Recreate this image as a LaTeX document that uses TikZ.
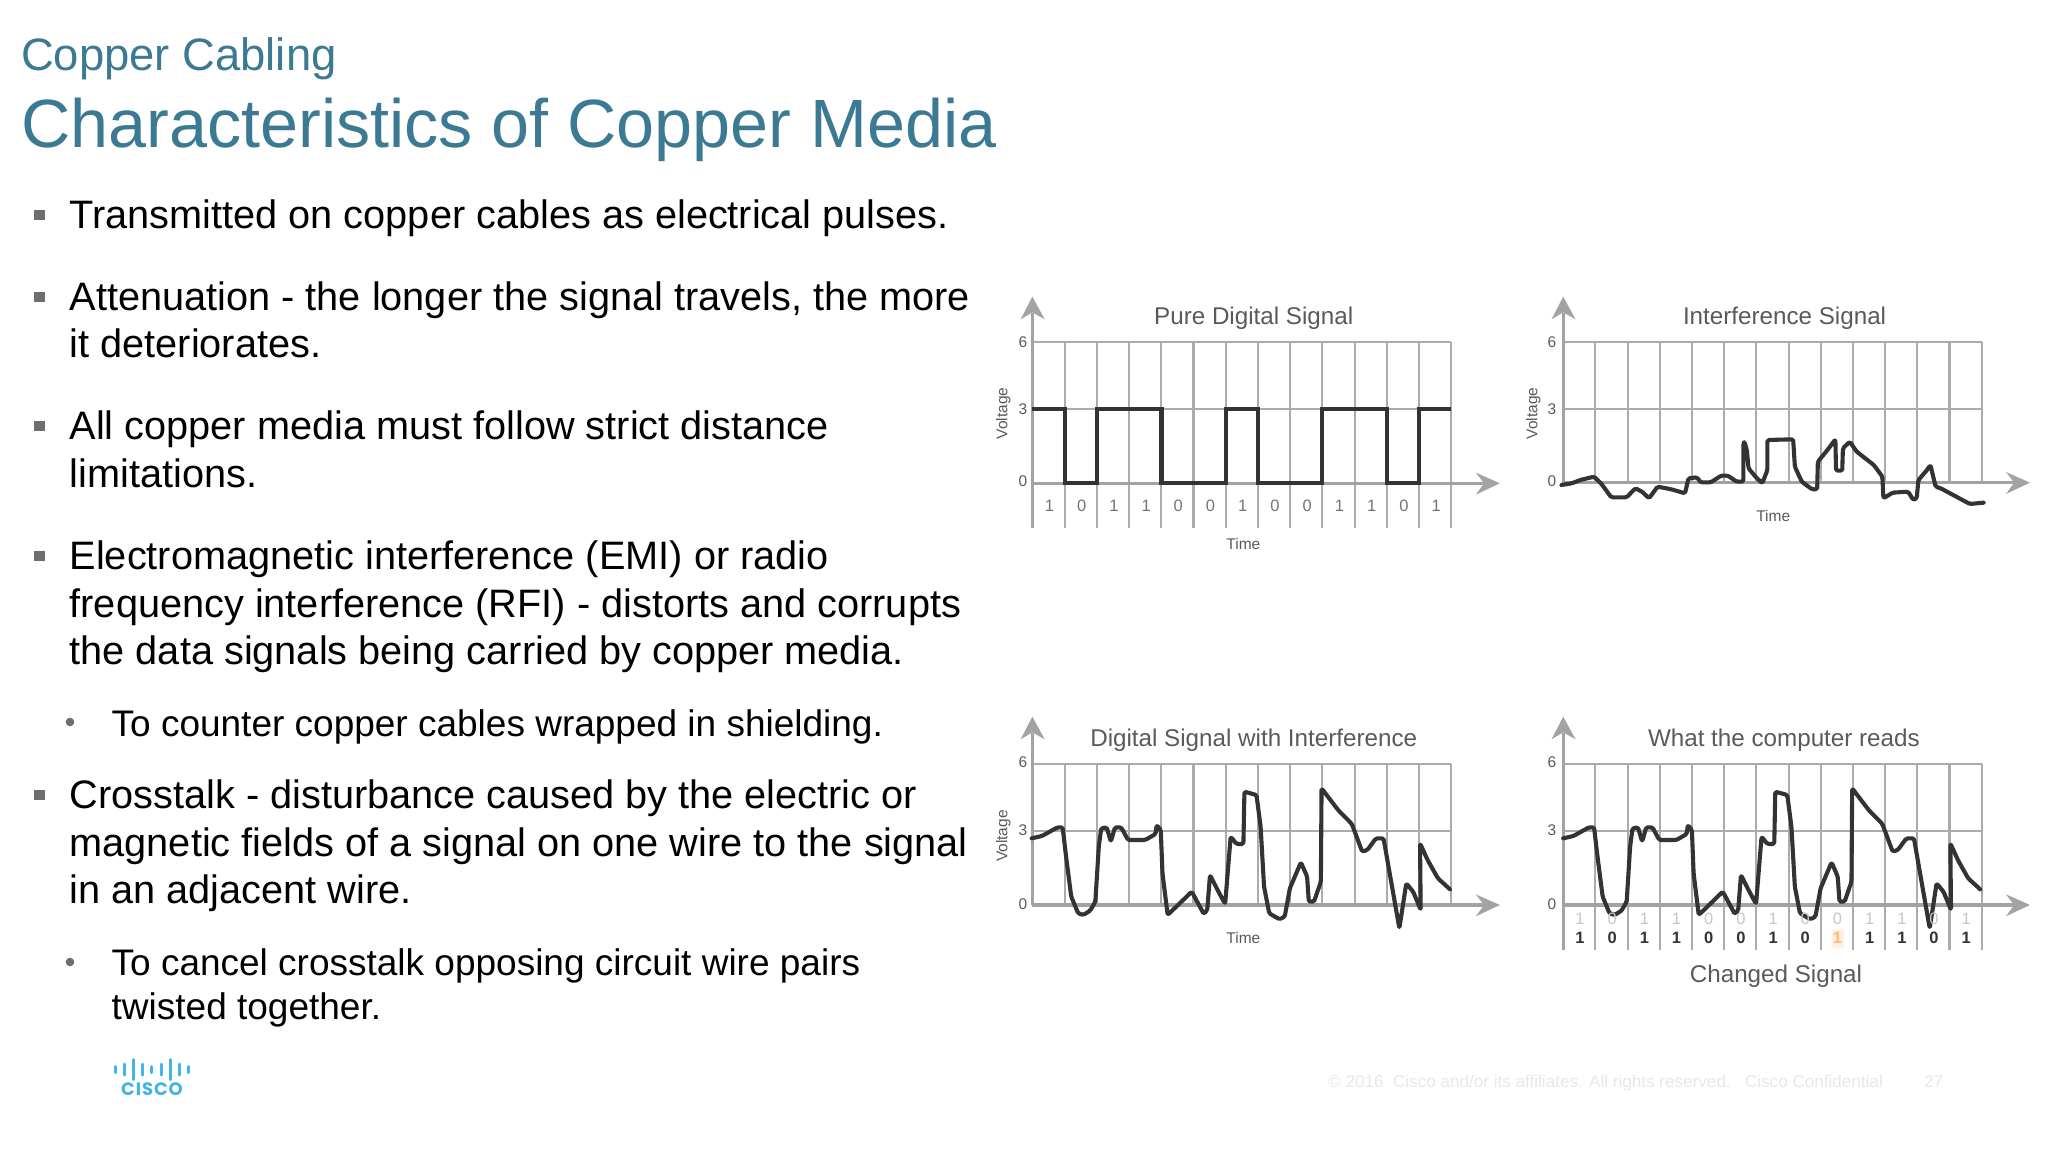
\documentclass[tikz,border=0pt]{standalone}
\usepackage{fontspec}
\setmainfont{Liberation Sans}
\newfontfamily\logofont[LetterSpace=5]{Poppins}
\definecolor{teal}{HTML}{3B7A92}
\definecolor{gridc}{HTML}{ABABAB}
\definecolor{axisc}{HTML}{A3A3A3}
\definecolor{sigc}{HTML}{333333}
\definecolor{labc}{HTML}{5A5A5A}
\definecolor{bulc}{HTML}{6E6E6E}
\definecolor{ciscoc}{HTML}{3FB6E4}
\definecolor{footc}{HTML}{E8E8E8}
\newcommand{\fs}[1]{\fontsize{#1}{#1}\selectfont}
\tikzset{
  txt/.style={inner sep=0pt,anchor=base west},
  head/.style={txt,text=teal,font=\fs{45.4}},
  maintitle/.style={txt,text=teal,font=\fs{68.3}},
  body/.style={txt,text=black,font=\fs{39.7}},
  subbody/.style={txt,text=black,font=\fs{37}},
  lab/.style={inner sep=0pt,text=labc},
  gtitle/.style={lab,font=\fs{24.2}},
  small/.style={lab,font=\fs{15.5}},
  dig/.style={inner sep=0pt,text=labc!85,font=\fs{16.5}},
  dighi/.style={inner sep=0pt,text=black!80,font=\fs{16.5}\bfseries},
  diglo/.style={inner sep=0pt,text=black!22,font=\fs{16.5}},
  gridl/.style={draw=gridc,line width=2.1pt},
  axisl/.style={draw=axisc,line width=3.2pt},
  sig/.style={draw=sigc,line width=4.1pt,line join=round,line cap=round,rounded corners=1.5pt},
  headfill/.style={fill=axisc,draw=none},
  sqb/.style={fill=bulc,draw=none},
  dotb/.style={fill=bulc,draw=none},
  logobar/.style={draw=ciscoc,line width=3pt,line cap=round},
  foot/.style={inner sep=0pt,anchor=base west,text=footc,font=\fs{17.1}},
}
% #1 x0  #2 dx  #3 top  #4 mid  #5 zero  #6 arrow end x  #7 bottom of verticals
\newcommand{\graphframe}[7]{
  \foreach \i in {1,...,13} \draw[gridl] ({#1+\i*#2},#3) -- ({#1+\i*#2},#7);
  \draw[gridl] (#1,#3) -- ({#1+13*#2},#3);
  \draw[gridl] (#1,#4) -- ({#1+13*#2},#4);
  \draw[axisl] (#1,100) -- (#1,#7);
  \draw[axisl] (#1,#5) -- (#6-40,#5);
  \fill[headfill] (#1,50) -- (#1+36,118) -- (#1,97) -- (#1-34,118) -- cycle;
  \fill[headfill] (#6,#5) -- (#6-70,#5-32) -- (#6-46,#5) -- (#6-70,#5+34) -- cycle;
}
\def\sigthree{(150,415) -- (180,408) -- (225,382) -- (240,382) -- (250,470) -- (265,590) -- (285,640) -- (300,645) -- (320,632) -- (335,605) -- (345,440) -- (352,385) -- (368,382) -- (380,425) -- (392,382) -- (410,382) -- (430,420) -- (480,420) -- (510,402) -- (513,375) -- (525,390) -- (530,520) -- (545,645) -- (615,575) -- (650,642) -- (660,630) -- (668,525) -- (690,570) -- (712,612) -- (728,410) -- (745,432) -- (765,432) -- (768,275) -- (803,285) -- (815,380) -- (825,560) -- (840,640) -- (870,658) -- (885,650) -- (900,565) -- (932,487) -- (950,530) -- (955,605) -- (970,605) -- (990,545) -- (992,265) -- (1040,330) -- (1080,372) -- (1110,455) -- (1125,450) -- (1150,415) -- (1172,415) -- (1218,685) -- (1238,550) -- (1258,575) -- (1280,630) -- (1278,430) -- (1300,480) -- (1330,535) -- (1365,568)}
\begin{document}
\begin{tikzpicture}[x=1pt,y=-1pt]
\useasboundingbox (0,0) rectangle (2048,1152);
\fill[white] (0,0) rectangle (2048,1152);
% headings
\node[head] (sup) at (21,70) {Copper Cabling};
\node[maintitle] (ttl) at (21,147) {Characteristics of Copper Media};
% bullets
\foreach \yy in {215,297,426,556,795} \fill[sqb] (33.5,\yy-5) rectangle (44.5,\yy+5);
\foreach \yy in {722,962} \fill[dotb] (70,\yy) circle (4.3);
\node[body] (t1) at (69.5,228) {Transmitted on copper cables as electrical pulses.};
\node[body] (t2) at (69.5,310) {Attenuation - the longer the signal travels, the more};
\node[body] (t3) at (69.5,357) {it deteriorates.};
\node[body] (t4) at (69.5,439) {All copper media must follow strict distance};
\node[body] (t5) at (69.5,487) {limitations.};
\node[body] (t6) at (69.5,569) {Electromagnetic interference (EMI) or radio};
\node[body] (t7) at (69.5,617) {frequency interference (RFI) - distorts and corrupts};
\node[body] (t8) at (69.5,664) {the data signals being carried by copper media.};
\node[subbody] (t9) at (111.5,736) {To counter copper cables wrapped in shielding.};
\node[body] (t10) at (69.5,808) {Crosstalk - disturbance caused by the electric or};
\node[body] (t11) at (69.5,856) {magnetic fields of a signal on one wire to the signal};
\node[body] (t12) at (69.5,903) {in an adjacent wire.};
\node[subbody] (t13) at (111.5,975) {To cancel crosstalk opposing circuit wire pairs};
\node[subbody] (t14) at (111.5,1019) {twisted together.};
% graph 1
\begin{scope}[shift={(980,280)},x=0.3443pt,y=-0.3333pt]
\graphframe{152}{93.6}{187}{387}{610}{1510}{745}
\foreach \b [count=\i from 0] in {1,0,1,1,0,0,1,0,0,1,1,0,1}
  \node[dig] (ga\i) at ({152+(\i+.53)*93.6},677) {\b};
\draw[sig,line cap=butt,line join=miter,rounded corners=0pt] (152,387) -- (246,387) -- (246,610) -- (340,610) -- (340,387) -- (527,387) -- (527,610) -- (714,610) -- (714,387) -- (808,387) -- (808,610) -- (994,610) -- (994,387) -- (1181,387) -- (1181,610) -- (1275,610) -- (1275,387) -- (1368,387);
\node[gtitle] (gat) at (795,114) {Pure Digital Signal};
\node[small] (gax) at (765,793) {Time};
\node[small,rotate=90] (gay) at (68,400) {Voltage};
\node[small] (ga6) at (125,187) {6};
\node[small] (ga3) at (125,387) {3};
\node[small] (ga0) at (125,605) {0};
\end{scope}
% graph 2
\begin{scope}[shift={(1510,280)},x=0.3432pt,y=-0.3333pt]
\graphframe{155}{93.8}{187}{386}{608}{1515}{608}
\draw[sig] (150,615) -- (180,610) -- (205,600) -- (245,590) -- (265,610) -- (295,652) -- (340,652) -- (365,625) -- (385,635) -- (405,655) -- (430,620) -- (470,628) -- (510,640) -- (520,595) -- (545,592) -- (555,607) -- (585,607) -- (615,587) -- (635,587) -- (660,605) -- (680,605) -- (680,490) -- (683,485) -- (690,510) -- (695,565) -- (715,590) -- (735,610) -- (750,570) -- (750,480) -- (825,478) -- (830,560) -- (850,605) -- (880,628) -- (895,628) -- (897,545) -- (925,510) -- (948,478) -- (950,572) -- (968,572) -- (970,505) -- (990,485) -- (1010,515) -- (1060,555) -- (1085,590) -- (1088,655) -- (1115,638) -- (1160,635) -- (1175,660) -- (1185,655) -- (1190,600) -- (1215,570) -- (1225,555) -- (1240,620) -- (1255,625) -- (1300,650) -- (1340,672) -- (1380,668);
\node[gtitle] (gbt) at (800,114) {Interference Signal};
\node[small] (gbx) at (767,708) {Time};
\node[small,rotate=90] (gby) at (68,400) {Voltage};
\node[small] (gb6) at (122,187) {6};
\node[small] (gb3) at (122,387) {3};
\node[small] (gb0) at (122,605) {0};
\end{scope}
% graph 3
\begin{scope}[shift={(980,700)},x=0.3443pt,y=-0.3333pt]
\graphframe{152}{93.6}{192}{392}{615}{1510}{615}
\draw[sig] \sigthree;
\node[gtitle] (gct) at (795,121) {Digital Signal with Interference};
\node[small] (gcx) at (765,713) {Time};
\node[small,rotate=90] (gcy) at (68,408) {Voltage};
\node[small] (gc6) at (125,187) {6};
\node[small] (gc3) at (125,390) {3};
\node[small] (gc0) at (125,612) {0};
\end{scope}
% graph 4
\begin{scope}[shift={(1510,700)},x=0.3432pt,y=-0.3333pt]
\graphframe{155}{93.8}{193}{392}{615}{1515}{750}
\fill[orange!12] (938,690) rectangle (972,745);
\begin{scope}[xshift=1.7pt]
\draw[sig] \sigthree;
\end{scope}
\foreach \b [count=\i from 0] in {1,0,1,1,0,0,1,0,0,1,1,0,1}
  \node[diglo] (gdu\i) at ({155+(\i+.52)*93.8},657) {\b};
\foreach \b [count=\i from 0] in {1,0,1,1,0,0,1,0}
  \node[dighi] (gdl\i) at ({155+(\i+.52)*93.8},714) {\b};
\node[dighi,text=orange!55!white] (gdl8) at ({155+8.52*93.8},714) {1};
\foreach \b [count=\i from 9] in {1,1,0,1}
  \node[dighi] (gdl\i) at ({155+(\i+.52)*93.8},714) {\b};
\node[gtitle] (gdt) at (798,120) {What the computer reads};
\node[gtitle] (gdx) at (775,829) {Changed Signal};
\node[small] (gd6) at (122,187) {6};
\node[small] (gd3) at (122,390) {3};
\node[small] (gd0) at (122,612) {0};
\end{scope}
% logo
\foreach \xx/\hh in {115/3,124/5.5,133/10,142/5.5,151.5/3,161/5.5,170/10,179/5.5,188.5/3}
  \draw[logobar] (\xx,1069.5-\hh) -- (\xx,1069.5+\hh);
\node[inner sep=0pt,text=ciscoc,font=\fs{18}\logofont\bfseries] (logo) at (152,1089.5) {CISCO};
% footer
\node[foot] (f1) at (1328,1087) {© 2016\ \ Cisco and/or its affiliates. All rights reserved.\ \ \ Cisco Confidential};
\node[foot] (f2) at (1924,1087) {27};
\end{tikzpicture}
\end{document}
